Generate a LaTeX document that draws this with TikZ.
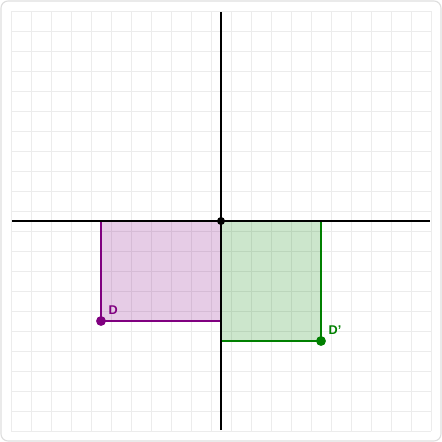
\documentclass[tikz,border=0pt]{standalone}
\usepackage{fontspec}
\setmainfont{Liberation Sans}
\usepackage{xcolor}
\usetikzlibrary{positioning,calc}

\definecolor{dpurple}{RGB}{128,0,128}
\definecolor{dgreen}{RGB}{0,128,0}
\definecolor{gridgray}{RGB}{236,236,236}
\definecolor{framegray}{RGB}{222,222,222}

\begin{document}
\begin{tikzpicture}[x=0.5cm, y=0.5cm,
        axis/.style={line width=1.4pt, black},
        region/.style={line width=1.4pt},
        dot/.style={circle, fill, inner sep=0pt, minimum size=7pt},
        lbl/.style={font=\bfseries\fontsize{9}{10}\selectfont, inner sep=1pt}
        ]

        % ---------------- Frame and grid ----------------
        \useasboundingbox (-11.05,-11.05) rectangle (11.05,11.05);
        \draw[framegray, line width=0.8pt, rounded corners=5pt] (-11,-11) rectangle (11,11);
        \draw[gridgray, line width=0.4pt, step=0.5cm, shift={(0.5,0.5)}] (-11,-11) grid (10,10);

        % ---------------- Points ----------------
        \coordinate (O)  at (0,0);
        \coordinate (D)  at (-6,-5);
        \coordinate (Dp) at (5,-6);

        % ---------------- Regions ----------------
        \fill[dpurple, opacity=0.2] (O) rectangle (D);
        \draw[region, dpurple] (O -| D) -- (D) -- (D -| O);
        \fill[dgreen, opacity=0.2] (O) rectangle (Dp);
        \draw[region, dgreen] (O) -- (O -| Dp) -- (Dp) -- (Dp -| O) -- cycle;

        % ---------------- Axes ----------------
        \draw[axis] (-10.45,0) -- (10.45,0);
        \draw[axis] (0,-10.45) -- (0,10.45);

        % ---------------- Dots and labels ----------------
        \node[dot, minimum size=5.7pt, black] (o) at (O) {};
        \node[dot, dpurple] (d) at (D) {};
        \node[dot, dgreen] (dp) at (Dp) {};
        \node[lbl, dpurple, anchor=south west] at ($(d)+(0.3,0.25)$) {D};
        \node[lbl, dgreen, anchor=south west] at ($(dp)+(0.3,0.25)$) {D’};

    \end{tikzpicture}
\end{document}
